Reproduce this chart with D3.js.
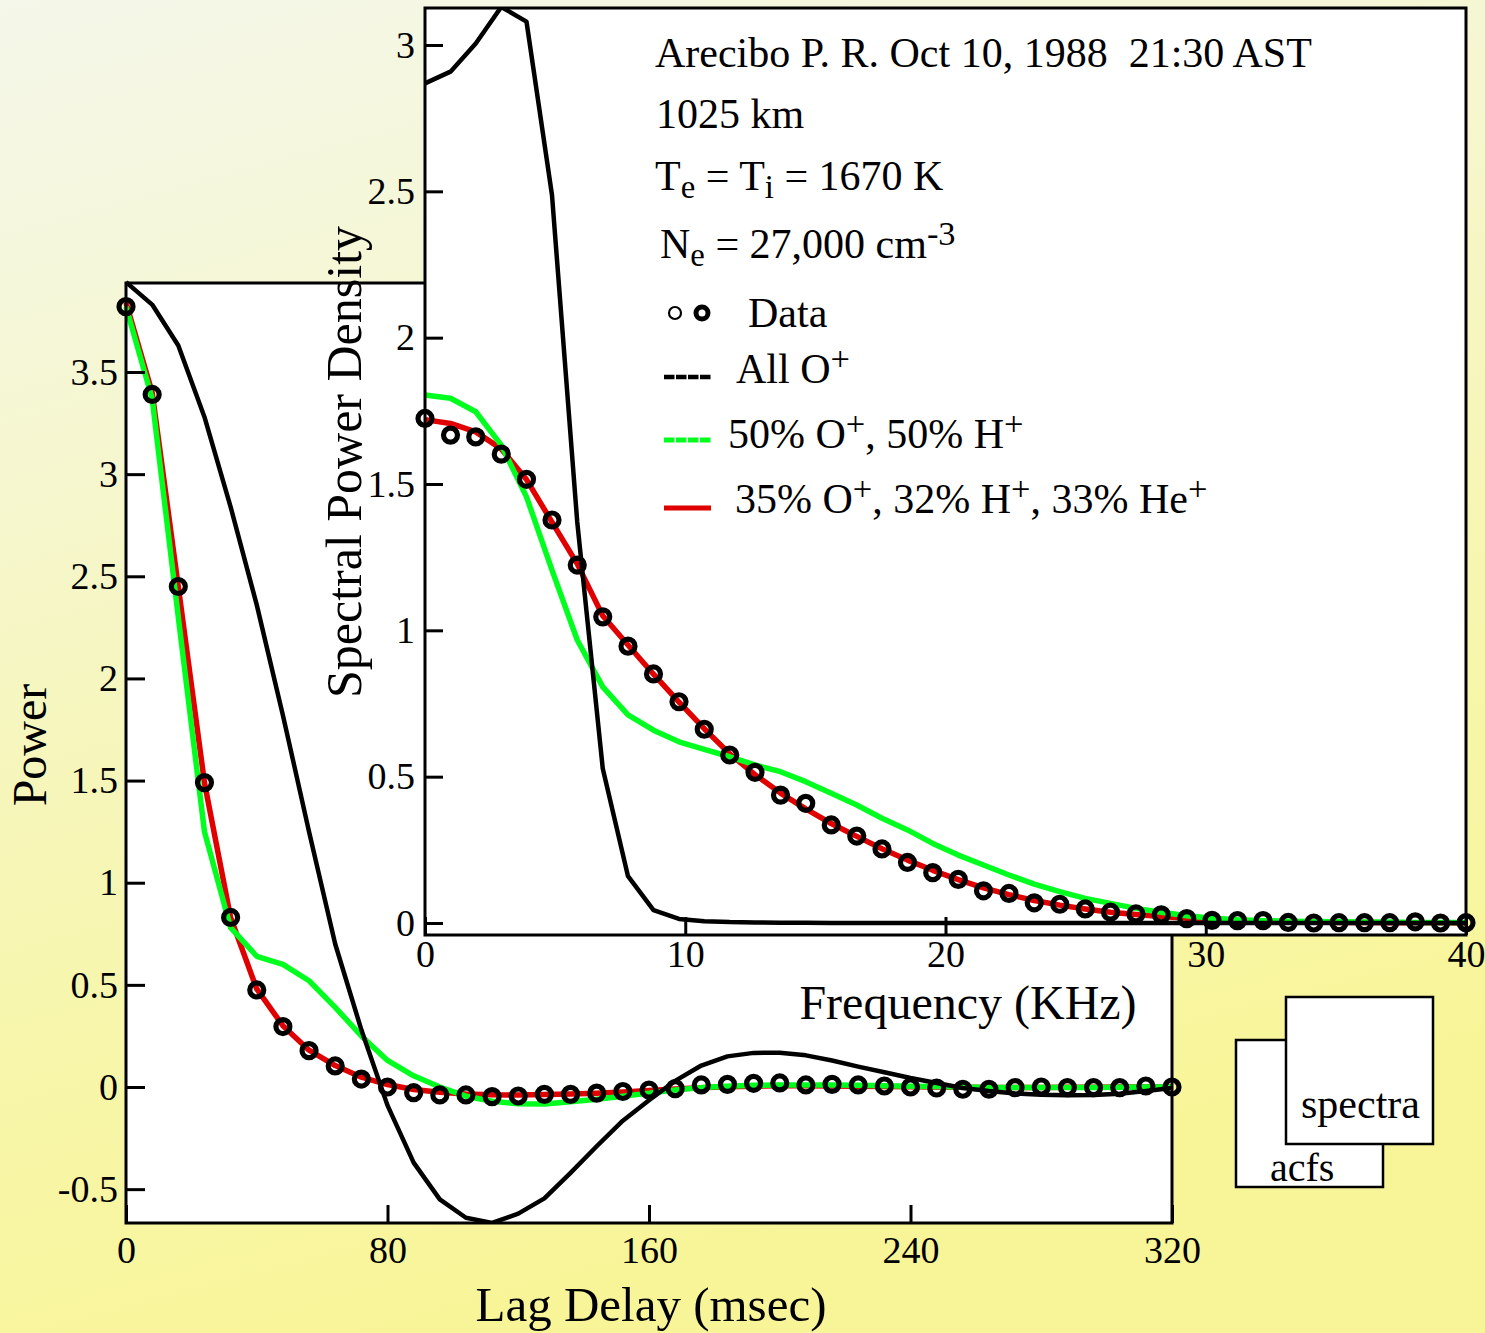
<!DOCTYPE html>
<html><head><meta charset="utf-8">
<script src="https://cdn.jsdelivr.net/npm/d3@7"></script>
<style>
html,body{margin:0;padding:0;background:#f6f6c8;}
svg{display:block;}
text{font-family:"Liberation Serif","DejaVu Serif",serif;fill:#000;}
</style></head><body>
<svg id="chart" width="1485" height="1333"></svg>
<script>
// ---------------- DATA ----------------
// ACF panel (lag in msec)
const lags = [0,8,16,24,32,40,48,56,64,72,80,88,96,104,112,120,128,136,144,152,160,168,176,184,192,200,208,216,224,232,240,248,256,264,272,280,288,296,304,312,320];
const acfData = [3.82,3.39,2.45,1.49,0.83,0.475,0.296,0.178,0.103,0.039,0.0,-0.028,-0.039,-0.039,-0.047,-0.044,-0.036,-0.036,-0.03,-0.022,-0.015,-0.008,0.01,0.013,0.018,0.02,0.01,0.013,0.01,0.005,0.0,-0.005,-0.011,-0.011,-0.003,0.0,-0.003,-0.003,-0.003,0.005,0.0];
const acfAllO = [3.94,3.83,3.63,3.28,2.84,2.36,1.82,1.25,0.70,0.28,-0.09,-0.37,-0.55,-0.64,-0.665,-0.62,-0.545,-0.42,-0.29,-0.165,-0.065,0.03,0.105,0.15,0.167,0.168,0.155,0.13,0.10,0.072,0.044,0.02,-0.005,-0.02,-0.032,-0.038,-0.04,-0.039,-0.033,-0.02,-0.005];
const acfOH = [3.82,3.37,2.30,1.25,0.78,0.64,0.60,0.52,0.39,0.25,0.13,0.055,0.0,-0.045,-0.07,-0.082,-0.083,-0.072,-0.06,-0.045,-0.03,-0.015,-0.003,0.004,0.008,0.01,0.01,0.01,0.008,0.006,0.004,0.002,0.0,-0.002,-0.003,-0.003,-0.003,-0.002,-0.001,0.0,0.0];
const acfOHHe = [3.84,3.40,2.45,1.49,0.83,0.48,0.30,0.18,0.105,0.048,0.012,-0.012,-0.026,-0.034,-0.038,-0.039,-0.037,-0.034,-0.03,-0.024,-0.017,-0.01,-0.004,0.001,0.004,0.006,0.006,0.005,0.004,0.003,0.001,0.0,-0.001,-0.002,-0.002,-0.002,-0.001,-0.001,0.0,0.0,0.0];
const acfXTicks = [0,80,160,240,320];
const acfYTicks = [-0.5,0,0.5,1,1.5,2,2.5,3,3.5];
const acfYTickLabels = ["-0.5","0","0.5","1","1.5","2","2.5","3","3.5"];

// Spectra panel (frequency in KHz)
const freqs = [0,0.98,1.95,2.93,3.90,4.88,5.85,6.83,7.80,8.78,9.76,10.73,11.71,12.68,13.66,14.63,15.61,16.59,17.56,18.54,19.51,20.49,21.46,22.44,23.41,24.39,25.37,26.34,27.32,28.29,29.27,30.24,31.22,32.20,33.17,34.15,35.12,36.10,37.07,38.05,39.02,40.00];
const specData = [1.724,1.667,1.661,1.602,1.516,1.377,1.223,1.046,0.946,0.851,0.756,0.662,0.574,0.515,0.437,0.409,0.335,0.297,0.253,0.207,0.172,0.149,0.110,0.101,0.069,0.064,0.048,0.037,0.031,0.028,0.015,0.009,0.008,0.008,0.002,0.0,0.001,0.001,0.001,0.004,0.0,0.001];
const specAllO = [2.869,2.909,3.005,3.13,3.08,2.487,1.37,0.528,0.16,0.044,0.014,0.006,0.003,0.002,0.001,0.001,0,0,0,0,0,0,0,0,0,0,0,0,0,0,0,0,0,0,0,0,0,0,0,0,0,0];
const specOH = [1.804,1.793,1.747,1.633,1.456,1.206,0.967,0.807,0.711,0.659,0.619,0.593,0.568,0.540,0.517,0.483,0.443,0.403,0.358,0.318,0.272,0.232,0.198,0.164,0.133,0.107,0.084,0.067,0.050,0.037,0.025,0.016,0.011,0.008,0.006,0.005,0.004,0.003,0.003,0.002,0.002,0.002];
const specOHHe = [1.72,1.707,1.678,1.62,1.515,1.37,1.227,1.05,0.95,0.85,0.755,0.664,0.578,0.507,0.444,0.39,0.34,0.296,0.254,0.215,0.18,0.148,0.12,0.097,0.077,0.061,0.048,0.037,0.029,0.022,0.016,0.011,0.008,0.006,0.004,0.003,0.002,0.002,0.001,0.001,0.001,0.0];
const specXTicks = [0,10,20,30,40];
const specYTicks = [0,0.5,1,1.5,2,2.5,3];
const specYTickLabels = ["0","0.5","1","1.5","2","2.5","3"];

const legendLabels = ["Data","All O","50% O","35% O"];
const COLORS = {allO:"#000000", oh:"#00ff1e", ohhe:"#e00000"};

// ---------------- DRAW ----------------
const svg = d3.select("#chart");
const W = 1485, H = 1333;
const FONT = '"Liberation Serif","DejaVu Serif",serif';

const defs = svg.append("defs");
const grad = defs.append("linearGradient").attr("id","bg").attr("x1",0).attr("y1",0).attr("x2",0.3).attr("y2",1);
[["0%","#f4f7e9"],["22%","#f5f7d9"],["50%","#f6f6bf"],["75%","#f7f6a9"],["100%","#f8f598"]]
  .forEach(([o,c])=>grad.append("stop").attr("offset",o).attr("stop-color",c));
svg.append("rect").attr("width",W).attr("height",H).attr("fill","url(#bg)");

function rich(g, x, y, parts, size, anchor){
  const t = g.append("text").attr("x",x).attr("y",y).attr("font-size",size)
    .style("white-space","pre").attr("text-anchor",anchor||"start");
  let cur = 0;
  parts.forEach(([s,type])=>{
    const off = type==="sub" ? size*0.2 : type==="sup" ? -size*0.3 : 0;
    const fs = type==="n" ? size : type==="sup" ? size*0.82 : size*0.78;
    t.append("tspan").attr("dy", off-cur).attr("font-size", fs).text(s);
    cur = off;
  });
  return t;
}

function styleAxis(g, fs){
  g.select(".domain").remove();
  g.attr("font-family",FONT).attr("font-size",fs);
  g.selectAll(".tick line").attr("stroke","#000").attr("stroke-width",3);
  g.selectAll(".tick text").attr("fill","#000");
}

// ---- ACF panel ----
const acf = {l:126, r:1172, t:283, b:1223};
const ax = d3.scaleLinear().domain([0,320]).range([acf.l, acf.r]);
const ay = d3.scaleLinear().domain([0,3.5]).range([1087,372]);
const gA = svg.append("g");
gA.append("rect").attr("x",acf.l).attr("y",acf.t).attr("width",acf.r-acf.l).attr("height",acf.b-acf.t).attr("fill","#fff");
defs.append("clipPath").attr("id","clipA").append("rect")
  .attr("x",acf.l-12).attr("y",acf.t-3).attr("width",acf.r-acf.l+24).attr("height",acf.b-acf.t+4);
const gAp = gA.append("g").attr("clip-path","url(#clipA)");
const lineA = (vals)=> d3.line().x((d,i)=>ax(lags[i])).y(d=>ay(d))(vals);
gAp.append("path").attr("d",lineA(acfOHHe)).attr("fill","none").attr("stroke",COLORS.ohhe).attr("stroke-width",5.5).attr("stroke-linejoin","round");
gAp.append("path").attr("d",lineA(acfOH)).attr("fill","none").attr("stroke",COLORS.oh).attr("stroke-width",5.5).attr("stroke-linejoin","round");
gAp.append("path").attr("d",lineA(acfAllO)).attr("fill","none").attr("stroke",COLORS.allO).attr("stroke-width",4.5).attr("stroke-linejoin","round");
gAp.selectAll("circle.d").data(acfData).join("circle").attr("class","d")
  .attr("cx",(d,i)=>ax(lags[i])).attr("cy",d=>ay(d)).attr("r",7)
  .attr("fill","none").attr("stroke","#000").attr("stroke-width",5.2);
const gAx = gA.append("g").attr("transform",`translate(0,${acf.b})`)
  .call(d3.axisBottom(ax).tickValues(acfXTicks).tickSizeInner(-18).tickSizeOuter(0).tickPadding(13).tickFormat(d=>String(d)));
styleAxis(gAx,38);
const gAy = gA.append("g").attr("transform",`translate(${acf.l},0)`)
  .call(d3.axisLeft(ay).tickValues(acfYTicks).tickSizeInner(-19).tickSizeOuter(0).tickPadding(8).tickFormat((d,i)=>acfYTickLabels[i]));
styleAxis(gAy,38);
gA.append("rect").attr("x",acf.l).attr("y",acf.t).attr("width",acf.r-acf.l).attr("height",acf.b-acf.t)
  .attr("fill","none").attr("stroke","#000").attr("stroke-width",3);
svg.append("text").attr("x",651).attr("y",1321).attr("text-anchor","middle").attr("font-size",49).text("Lag Delay (msec)");
svg.append("text").attr("transform","translate(46,745) rotate(-90)").attr("text-anchor","middle").attr("font-size",48).text("Power");

// ---- Spectra panel ----
const sp = {l:425, r:1466, t:8, b:935};
const sx = d3.scaleLinear().domain([0,40]).range([sp.l, sp.r]);
const sy = d3.scaleLinear().domain([0,3]).range([923,45]);
const gS = svg.append("g");
gS.append("rect").attr("x",sp.l).attr("y",sp.t).attr("width",sp.r-sp.l).attr("height",sp.b-sp.t).attr("fill","#fff");
defs.append("clipPath").attr("id","clipS").append("rect")
  .attr("x",sp.l-12).attr("y",sp.t).attr("width",sp.r-sp.l+24).attr("height",sp.b-sp.t);
const gSp = gS.append("g").attr("clip-path","url(#clipS)");
const lineS = (vals)=> d3.line().x((d,i)=>sx(freqs[i])).y(d=>sy(d))(vals);
gSp.append("path").attr("d",lineS(specOHHe)).attr("fill","none").attr("stroke",COLORS.ohhe).attr("stroke-width",5.5).attr("stroke-linejoin","round");
gSp.append("path").attr("d",lineS(specOH)).attr("fill","none").attr("stroke",COLORS.oh).attr("stroke-width",5.5).attr("stroke-linejoin","round");
gSp.append("path").attr("d",lineS(specAllO)).attr("fill","none").attr("stroke",COLORS.allO).attr("stroke-width",4.5).attr("stroke-linejoin","round");
gSp.selectAll("circle.d").data(specData).join("circle").attr("class","d")
  .attr("cx",(d,i)=>sx(freqs[i])).attr("cy",d=>sy(d)).attr("r",7)
  .attr("fill","none").attr("stroke","#000").attr("stroke-width",5.2);
const gSx = gS.append("g").attr("transform",`translate(0,${sp.b})`)
  .call(d3.axisBottom(sx).tickValues(specXTicks).tickSizeInner(-18).tickSizeOuter(0).tickPadding(5).tickFormat(d=>String(d)));
styleAxis(gSx,38);
const gSy = gS.append("g").attr("transform",`translate(${sp.l},0)`)
  .call(d3.axisLeft(sy).tickValues(specYTicks).tickSizeInner(-18).tickSizeOuter(0).tickPadding(10).tickFormat((d,i)=>specYTickLabels[i]));
styleAxis(gSy,38);
gS.append("rect").attr("x",sp.l).attr("y",sp.t).attr("width",sp.r-sp.l).attr("height",sp.b-sp.t)
  .attr("fill","none").attr("stroke","#000").attr("stroke-width",3);
svg.append("text").attr("x",968).attr("y",1019).attr("text-anchor","middle").attr("font-size",48).text("Frequency (KHz)");
svg.append("text").attr("transform","translate(361,462) rotate(-90)").attr("text-anchor","middle").attr("font-size",50).text("Spectral Power Density");

// ---- annotations ----
const gT = svg.append("g");
rich(gT,655,67,[["Arecibo P. R. Oct 10, 1988  21:30 AST","n"]],42);
rich(gT,656,128,[["1025 km","n"]],42);
rich(gT,655,190,[["T","n"],["e","sub"],[" = T","n"],["i","sub"],[" = 1670 K","n"]],42);
rich(gT,660,258,[["N","n"],["e","sub"],[" = 27,000 cm","n"],["-3","sup"]],42);

// legend
gT.append("circle").attr("cx",675).attr("cy",313).attr("r",6).attr("fill","none").attr("stroke","#000").attr("stroke-width",2.2);
gT.append("circle").attr("cx",702).attr("cy",313).attr("r",6).attr("fill","none").attr("stroke","#000").attr("stroke-width",5);
rich(gT,748,327,[[legendLabels[0],"n"]],42);
const sw = [{y:377,c:COLORS.allO,w:4.5},{y:440,c:COLORS.oh,w:5},{y:508,c:COLORS.ohhe,w:5}];
sw.forEach(s=>gT.append("line").attr("x1",664).attr("x2",711).attr("y1",s.y).attr("y2",s.y)
  .attr("stroke",s.c).attr("stroke-width",s.w).attr("stroke-dasharray", s.c===COLORS.ohhe?null:"10.5,1.5"));
rich(gT,736,383,[[legendLabels[1],"n"],["+","sup"]],42);
rich(gT,728,448,[[legendLabels[2],"n"],["+","sup"],[", 50% H","n"],["+","sup"]],42);
rich(gT,735,513,[[legendLabels[3],"n"],["+","sup"],[", 32% H","n"],["+","sup"],[", 33% He","n"],["+","sup"]],42);

// ---- mini icon ----
const gI = svg.append("g");
gI.append("rect").attr("x",1236).attr("y",1040).attr("width",147).attr("height",147).attr("fill","#fff").attr("stroke","#000").attr("stroke-width",2.5);
gI.append("text").attr("x",1270).attr("y",1181).attr("font-size",40).text("acfs");
gI.append("rect").attr("x",1286).attr("y",997).attr("width",147).attr("height",147).attr("fill","#fff").attr("stroke","#000").attr("stroke-width",2.5);
gI.append("text").attr("x",1301).attr("y",1118).attr("font-size",42).text("spectra");
</script>
</body></html>
